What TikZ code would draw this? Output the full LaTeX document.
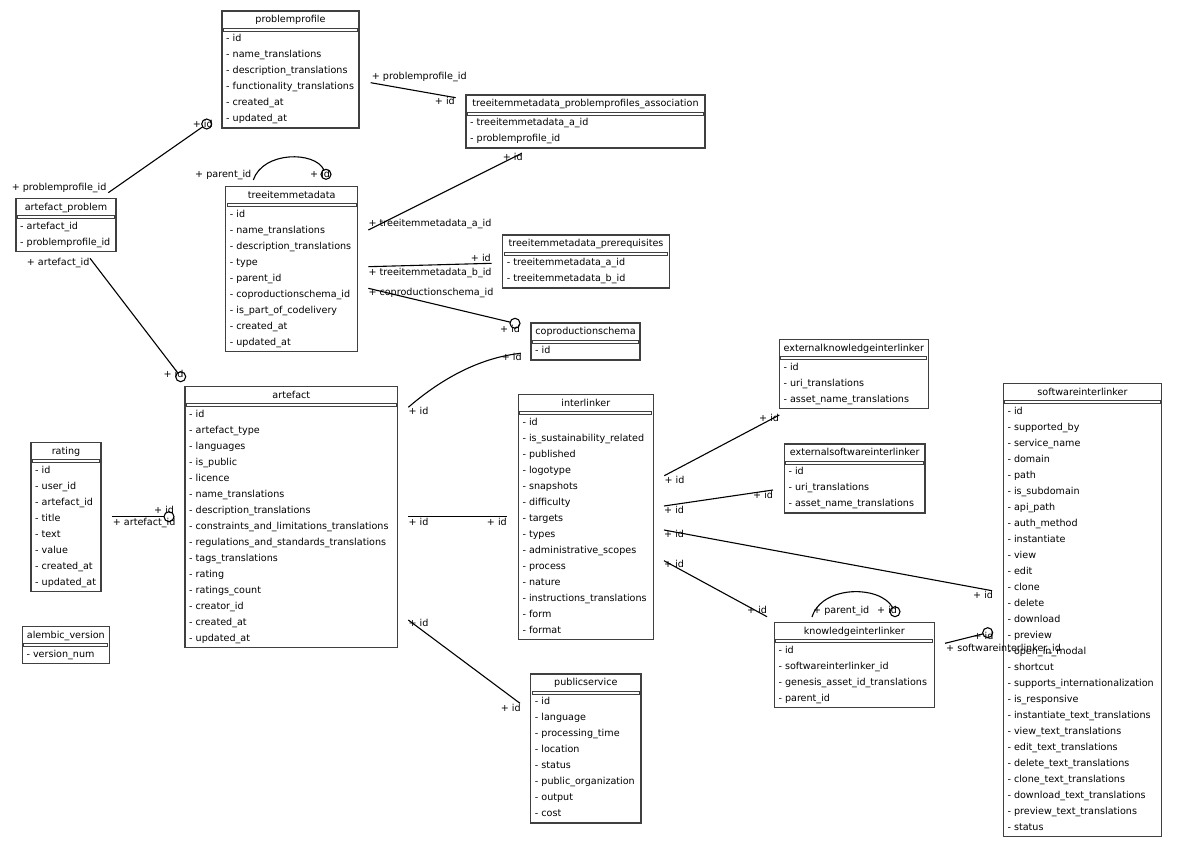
\documentclass[tikz,border=0pt]{standalone}
\usepackage{fontspec}
\setmainfont{DejaVu Sans}
\newcommand{\erfont}{\fontsize{9.6pt}{11pt}\selectfont}
\tikzset{
  ebox/.style={draw=black!75, line width=1.1pt, inner sep=0pt, outer sep=0pt, anchor=north west},
  sepbar/.style={draw=black!75, line width=0.9pt, fill=white},
  ttl/.style={font=\erfont, inner sep=0pt, anchor=base},
  rowtxt/.style={font=\erfont, inner sep=0pt, anchor=base west},
  lblw/.style={font=\erfont, inner sep=0pt, anchor=base west},
  lble/.style={font=\erfont, inner sep=0pt, anchor=base east},
  conn/.style={line width=1.1pt, draw=black},
  odot/.style={circle, draw=black, line width=1.1pt, minimum size=10pt, inner sep=0pt, outer sep=0pt},
}
\newcommand{\erbox}[7]{%
  \node[ebox, minimum width={(#4-#2)*1pt}, minimum height={(16*#5+21)*1pt}] (#1) at (#2,#3) {};
  \draw[sepbar] ({#2+1.5},{#3+17}) rectangle ({#4-1.5},{#3+20});
  \node[ttl] (#1-title) at ({(#2+#4)/2},{#3+11.7}) {#6};
  \foreach \r [count=\i] in {#7} {\node[rowtxt] (#1-\i) at ({#2+4},{#3+30.8+16*(\i-1)}) {\r};}
}
\begin{document}
\begin{tikzpicture}[x=1pt,y=-1pt]
\fill[white] (0,0) rectangle (1177,848);
\useasboundingbox (0,0) rectangle (1177,848);

% ---------- entities ----------
\erbox{pp}{222}{11}{359}{6}{problemprofile}{- id,- name\_translations,- description\_translations,- functionality\_translations,- created\_at,- updated\_at}
\erbox{assoc}{466}{95}{705}{2}{treeitemmetadata\_problemprofiles\_association}{- treeitemmetadata\_a\_id,- problemprofile\_id}
\erbox{ap}{16}{198.3}{116}{2}{artefact\_problem}{- artefact\_id,- problemprofile\_id}
\erbox{tim}{225.7}{186.7}{357.7}{9}{treeitemmetadata}{- id,- name\_translations,- description\_translations,- type,- parent\_id,- coproductionschema\_id,- is\_part\_of\_codelivery,- created\_at,- updated\_at}
\erbox{prq}{502.7}{235}{669.3}{2}{treeitemmetadata\_prerequisites}{- treeitemmetadata\_a\_id,- treeitemmetadata\_b\_id}
\erbox{cps}{531}{323}{640}{1}{coproductionschema}{- id}
\erbox{eki}{779.3}{339.3}{928.3}{3}{externalknowledgeinterlinker}{- id,- uri\_translations,- asset\_name\_translations}
\erbox{esi}{784.3}{444}{925}{3}{externalsoftwareinterlinker}{- id,- uri\_translations,- asset\_name\_translations}
\erbox{si}{1003.3}{383.3}{1161.7}{27}{softwareinterlinker}{- id,- supported\_by,- service\_name,- domain,- path,- is\_subdomain,- api\_path,- auth\_method,- instantiate,- view,- edit,- clone,- delete,- download,- preview,- open\_in\_modal,- shortcut,- supports\_internationalization,- is\_responsive,- instantiate\_text\_translations,- view\_text\_translations,- edit\_text\_translations,- delete\_text\_translations,- clone\_text\_translations,- download\_text\_translations,- preview\_text\_translations,- status}
\erbox{rt}{31}{442.3}{101}{8}{rating}{- id,- user\_id,- artefact\_id,- title,- text,- value,- created\_at,- updated\_at}
\erbox{alv}{22.3}{626.7}{109.3}{1}{alembic\_version}{- version\_num}
\erbox{art}{185}{386.7}{397.7}{15}{artefact}{- id,- artefact\_type,- languages,- is\_public,- licence,- name\_translations,- description\_translations,- constraints\_and\_limitations\_translations,- regulations\_and\_standards\_translations,- tags\_translations,- rating,- ratings\_count,- creator\_id,- created\_at,- updated\_at}
\erbox{il}{518.3}{394.3}{653.3}{14}{interlinker}{- id,- is\_sustainability\_related,- published,- logotype,- snapshots,- difficulty,- targets,- types,- administrative\_scopes,- process,- nature,- instructions\_translations,- form,- format}
\erbox{ki}{774.3}{622.7}{934.3}{4}{knowledgeinterlinker}{- id,- softwareinterlinker\_id,- genesis\_asset\_id\_translations,- parent\_id}
\erbox{ps}{530.7}{674}{641}{8}{publicservice}{- id,- language,- processing\_time,- location,- status,- public\_organization,- output,- cost}

% ---------- connector ends ----------
\coordinate (e1s) at (108.3,192.7);  \node[odot] (e1c) at (206.7,124) {};
\coordinate (e2s) at (90,258.3);     \node[odot] (e2c) at (180.7,376.7) {};
\coordinate (e3s) at (253.3,180);    \node[odot] (e3c) at (326,174.3) {};
\coordinate (e4s) at (370.7,82.7);   \coordinate (e4t) at (455.7,97.7);
\coordinate (e5s) at (368.3,230);    \coordinate (e5t) at (521.7,153.3);
\coordinate (e6s) at (368.3,266.7);  \coordinate (e6t) at (491.7,263.3);
\coordinate (e7s) at (368.3,288.3);  \node[odot] (e7c) at (515,323.3) {};
\coordinate (e8s) at (408.3,407.3);  \coordinate (e8t) at (520.7,353.3);
\coordinate (e9s) at (111.7,516.7);  \node[odot] (e9c) at (169,516.7) {};
\coordinate (e10s) at (408.3,516.7); \coordinate (e10t) at (507.3,516.7);
\coordinate (e11s) at (408.3,620);   \coordinate (e11t) at (520,703.3);
\coordinate (e12s) at (664.3,475.7); \coordinate (e12t) at (779.3,415);
\coordinate (e13s) at (664,506);     \coordinate (e13t) at (773,490);
\coordinate (e14s) at (664,530);     \coordinate (e14t) at (992,590.7);
\coordinate (e15s) at (664,560.7);   \coordinate (e15t) at (767,616.7);
\coordinate (e16s) at (812,617);     \node[odot] (e16c) at (895,611.7) {};
\coordinate (e17s) at (945,643.3);   \node[odot] (e17c) at (987.7,632.7) {};

% ---------- connectors ----------
\draw[conn] (e1s) -- (e1c);
\draw[conn] (e2s) -- (e2c);
\draw[conn] (e3s) .. controls (263,151) and (315,151) .. (e3c);
\draw[conn] (e4s) -- (e4t);
\draw[conn] (e5s) -- (e5t);
\draw[conn] (e6s) -- (e6t);
\draw[conn] (e7s) -- (e7c);
\draw[conn] (e8s) .. controls (440,380) and (478,358) .. (e8t);
\draw[conn] (e9s) -- (e9c);
\draw[conn] (e10s) -- (e10t);
\draw[conn] (e11s) -- (e11t);
\draw[conn] (e12s) -- (e12t);
\draw[conn] (e13s) -- (e13t);
\draw[conn] (e14s) -- (e14t);
\draw[conn] (e15s) -- (e15t);
\draw[conn] (e16s) .. controls (822,585) and (880,585) .. (e16c);
\draw[conn] (e17s) -- (e17c);

% ---------- labels ----------
\node[lble] (l1s) at (106.7,190) {+ problemprofile\_id};
\node[lblw] (l1t) at (192.7,127.3) {+ id};
\node[lblw] (l2s) at (26.7,265) {+ artefact\_id};
\node[lblw] (l2t) at (163.3,377.7) {+ id};
\node[lblw] (l3s) at (195,177.3) {+ parent\_id};
\node[lblw] (l3t) at (310,177) {+ id};
\node[lblw] (l4s) at (371.7,80) {+ problemprofile\_id};
\node[lble] (l4t) at (455,104.3) {+ id};
\node[lblw] (l5s) at (368.3,226.7) {+ treeitemmetadata\_a\_id};
\node[lblw] (l5t) at (502.7,160.7) {+ id};
\node[lblw] (l6s) at (368.3,275) {+ treeitemmetadata\_b\_id};
\node[lble] (l6t) at (491,261) {+ id};
\node[lblw] (l7s) at (368.3,295) {+ coproductionschema\_id};
\node[lblw] (l7t) at (500,332.3) {+ id};
\node[lblw] (l8s) at (408.3,414.3) {+ id};
\node[lblw] (l8t) at (501.7,360) {+ id};
\node[lblw] (l9t) at (154,513.3) {+ id};
\node[lblw] (l9s) at (112.7,525) {+ artefact\_id};
\node[lblw] (l10s) at (408.3,525) {+ id};
\node[lble] (l10t) at (507,525) {+ id};
\node[lblw] (l11s) at (408.3,626) {+ id};
\node[lblw] (l11t) at (500.7,711.7) {+ id};
\node[lblw] (l12s) at (664.3,483) {+ id};
\node[lblw] (l12t) at (759,421.7) {+ id};
\node[lblw] (l13s) at (664,513) {+ id};
\node[lblw] (l13t) at (753,498) {+ id};
\node[lblw] (l14s) at (664,537) {+ id};
\node[lblw] (l14t) at (973,598.7) {+ id};
\node[lblw] (l15s) at (664,567) {+ id};
\node[lblw] (l15t) at (747,613) {+ id};
\node[lblw] (l16s) at (813,613.3) {+ parent\_id};
\node[lblw] (l16t) at (877,613) {+ id};
\node[lblw] (l17t) at (973.3,639.3) {+ id};
\node[lblw] (l17s) at (946,651.7) {+ softwareinterlinker\_id};
\end{tikzpicture}
\end{document}
